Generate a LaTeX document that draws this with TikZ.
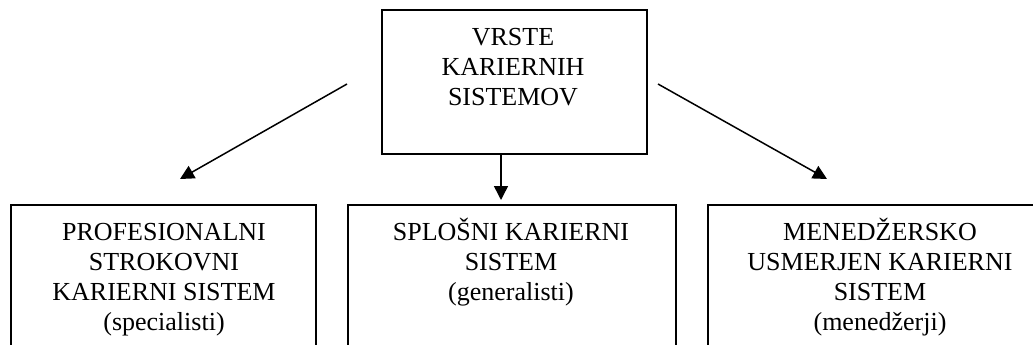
\documentclass[tikz,border=0pt]{standalone}
\usepackage{fontspec}
\setmainfont{Liberation Serif}
\usetikzlibrary{arrows.meta}
\begin{document}
\begin{tikzpicture}[x=1pt,y=-1pt,
  frame/.style={draw=black,line width=1.8pt,inner sep=0pt,anchor=north west},
  caption/.style={align=center,inner sep=0pt,anchor=north,
    font=\fontsize{26}{30}\selectfont},
  link/.style={line width=1.5pt,-{Triangle[length=14pt,width=14pt]}}]
\useasboundingbox (0,0) rectangle (1033,345);
\clip (0,0) rectangle (1033,345);

% boxes
\node[frame,minimum width=265pt,minimum height=144pt] (top) at (381,9) {};
\node[frame,minimum width=305pt,minimum height=170pt] (prof) at (10,204) {};
\node[frame,minimum width=328pt,minimum height=170pt] (gen) at (347,204) {};
\node[frame,minimum width=376pt,minimum height=170pt] (man) at (707,204) {};

% texts
\node[caption] (toptext) at (513,21)
  {\rule{0pt}{24pt}VRSTE\\KARIERNIH\\SISTEMOV};
\node[caption] (proftext) at (164,216)
  {\rule{0pt}{24pt}PROFESIONALNI\\STROKOVNI\\KARIERNI SISTEM\\(specialisti)};
\node[caption] (gentext) at (511,216)
  {\rule{0pt}{24pt}SPLOŠNI KARIERNI\\SISTEM\\(generalisti)};
\node[caption] (mantext) at (880,216)
  {\rule{0pt}{24pt}MENEDŽERSKO\\USMERJEN KARIERNI\\SISTEM\\(menedžerji)};

% arrows
\coordinate (lstart) at (347,84);
\coordinate (ltip) at (180,179);
\coordinate (rstart) at (658,84);
\coordinate (rtip) at (827,179);
\coordinate (mx) at (501,0);
\draw[link] (lstart) -- (ltip);
\draw[link] (rstart) -- (rtip);
\draw[link,shorten >=4pt] (top.south -| mx) -- (gen.north -| mx);
\end{tikzpicture}
\end{document}
